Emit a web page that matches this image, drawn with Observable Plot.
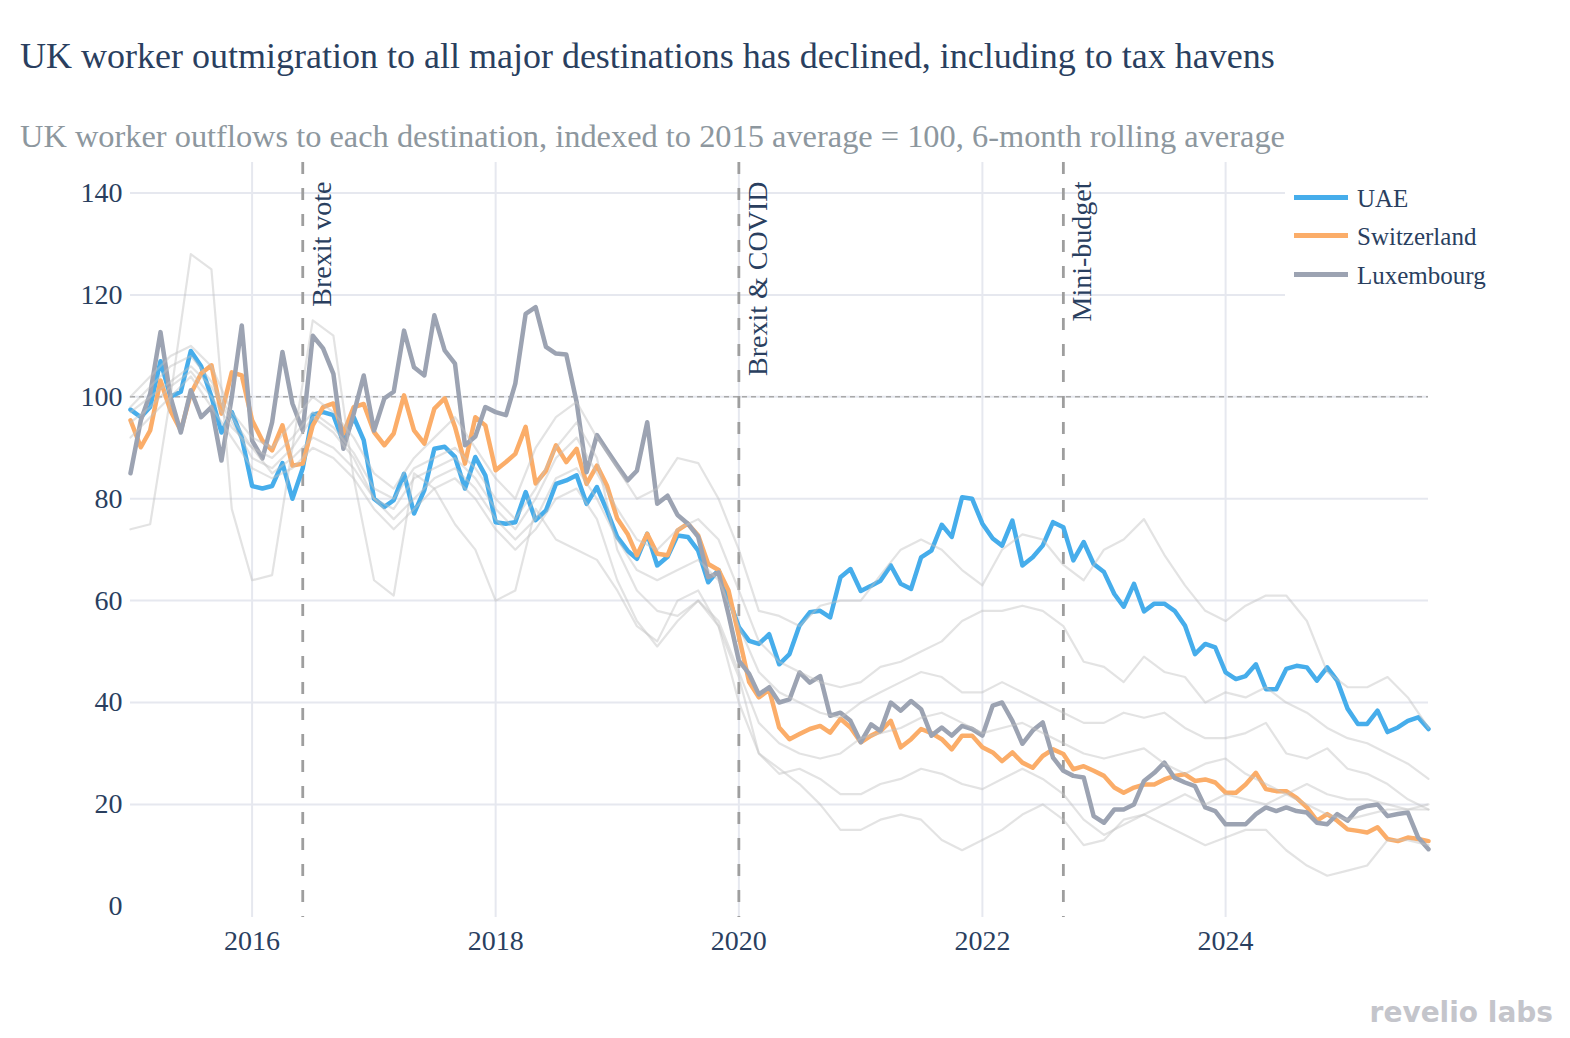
<!DOCTYPE html>
<html>
<head>
<meta charset="utf-8">
<script src="https://cdn.jsdelivr.net/npm/d3@7"></script>
<script src="https://cdn.jsdelivr.net/npm/@observablehq/plot@0.6"></script>
<style>
  body { margin: 0; background: #fff; }
  #page { position: relative; width: 1570px; height: 1038px; overflow: hidden; background: #fff;
          font-family: "Liberation Serif", "Times New Roman", serif; }
  .title { position: absolute; left: 20px; top: 38px; font-size: 36px; line-height: 36px; color: #2a3f5f; white-space: nowrap; }
  .subtitle { position: absolute; left: 20px; top: 120px; font-size: 32.4px; line-height: 32px; color: #8d979e; white-space: nowrap; z-index: 2; }
  #chart { position: absolute; left: 0; top: 150px; }
  #legend { position: absolute; left: 1285px; top: 172px; width: 285px; height: 135px; background: #fff; }
  .swatch { position: absolute; left: 9px; width: 54px; height: 5px; }
  .label { position: absolute; left: 72px; font-size: 25px; line-height: 25px; color: #2a3f5f; white-space: nowrap; }
  .logo { position: absolute; right: 17px; top: 999px; font-family: "DejaVu Sans", sans-serif; font-weight: bold;
          font-size: 28px; line-height: 28px; color: #c4c5cb; white-space: nowrap; }
</style>
</head>
<body>
<div id="page">
  <div class="title">UK worker outmigration to all major destinations has declined, including to tax havens</div>
  <div class="subtitle">UK worker outflows to each destination, indexed to 2015 average = 100, 6-month rolling average</div>
  <div id="chart"></div>
  <div id="legend"></div>
  <div class="logo">revelio labs</div>
</div>
<script>
// Monthly index values, Jan 2015 – Sep 2025 (2015 average = 100)
const uae = [
  97.5, 96, 98, 107, 100, 101, 109, 106, 100, 93, 97, 92,
  82.5, 82, 82.5, 87, 80, 86, 96.5, 97, 96.4, 91.1, 96, 91.5,
  80, 78.4, 79.7, 84.9, 77.1, 81.7, 89.8, 90.2, 88.2, 82, 88.2, 84.6,
  75.4, 75.1, 75.4, 81.3, 75.8, 77.7, 82.9, 83.6, 84.6, 79, 82.3, 77.7,
  72.5, 69.8, 68.2, 73.1, 66.9, 68.6, 72.8, 72.5, 69.8, 63.6, 66, 60.5,
  54.8, 52.1, 51.5, 53.4, 47.5, 49.5, 55.1, 57.7, 58, 56.7, 64.6, 66.2,
  61.9, 62.9, 63.9, 66.9, 63.3, 62.3, 68.5, 69.8, 74.9, 72.5, 80.3, 80,
  75.1, 72.2, 70.8, 75.7, 66.9, 68.5, 70.8, 75.4, 74.4, 67.9, 71.5, 67.2,
  65.6, 61.3, 58.8, 63.3, 57.9, 59.4, 59.4, 58, 55.1, 49.5, 51.5, 50.8,
  45.9, 44.6, 45.2, 47.5, 42.6, 42.6, 46.6, 47.2, 46.9, 44.3, 46.9, 44.3,
  38.8, 35.8, 35.8, 38.4, 34.2, 35.1, 36.4, 37.1, 34.8
];
const switzerland = [
  95.4, 90.1, 93.4, 103.2, 97.3, 93.4, 100.6, 104.6, 106.2, 96.7, 104.8, 104.2,
  95.4, 91.4, 89.5, 94.4, 86.5, 86.9, 94.4, 98, 98.7, 92.8, 98, 98.6,
  93.1, 90.5, 92.8, 100.3, 93.4, 90.8, 97.7, 99.7, 94.1, 86.9, 96, 94.4,
  85.6, 87.2, 88.8, 94.1, 83, 85.5, 90.5, 87.2, 89.8, 82.9, 86.5, 82.6,
  76.1, 73.1, 68.9, 73.1, 69.2, 68.9, 73.8, 75.1, 72.8, 67.2, 66, 62,
  53, 44, 41, 42.5, 35.1, 32.8, 33.8, 34.8, 35.4, 34.1, 36.8, 35.1,
  32.2, 33.5, 34.4, 36.4, 31.2, 32.8, 34.8, 34, 32.8, 30.8, 33.5, 33.5,
  31.2, 30.2, 28.5, 30.2, 28.2, 27.2, 29.5, 30.8, 29.9, 26.9, 27.5, 26.6,
  25.6, 23.3, 22.3, 23.3, 23.9, 23.9, 24.9, 25.6, 25.9, 24.6, 24.9, 24.3,
  22.3, 22.3, 23.9, 26.2, 23, 22.6, 22.6, 21.3, 19.4, 16.8, 18.1, 16.8,
  15.1, 14.8, 14.5, 15.5, 13.2, 12.8, 13.5, 13.2, 12.8
];
const luxembourg = [
  85, 95.4, 100.6, 112.7, 100, 93, 101.3, 96, 98, 87.5, 100, 114,
  91.4, 87.9, 95, 108.8, 98.7, 93.4, 112, 109.5, 104.5, 89.8, 96.7, 104.2,
  93.4, 99.7, 101, 113, 105.8, 104.2, 116, 109.1, 106.5, 90.5, 92.2, 98,
  97, 96.4, 102.6, 116.3, 117.6, 109.8, 108.5, 108.3, 99, 85.2, 92.5, 89.5,
  86.5, 83.6, 85.5, 95, 79, 80.6, 76.8, 75.1, 72.5, 64.6, 65.5, 57.3,
  48.2, 45.6, 41.6, 43, 40, 40.6, 45.9, 43.9, 45.2, 37.4, 38, 36.4,
  32.2, 35.7, 34.4, 40, 38.4, 40.3, 38.7, 33.5, 35.1, 33.5, 35.4, 34.8,
  33.5, 39.4, 40, 36.4, 31.9, 34.5, 36.1, 29.2, 26.6, 25.6, 25.3, 17.7,
  16.4, 19, 19, 20, 24.6, 26.2, 28.2, 25.2, 24.3, 23.6, 19.4, 18.7,
  16.1, 16.1, 16.1, 18.1, 19.4, 18.7, 19.4, 18.7, 18.4, 16.4, 16.1, 18.1,
  16.8, 19.1, 19.7, 20, 17.7, 18.1, 18.4, 13.5, 11.2
];

// Other major destinations, every second month (Jan, Mar, May, ...)
const otherA = [
  74, 75, 100, 128, 125, 78,
  64, 65, 90, 115, 112, 84,
  64, 61, 85, 82, 75, 70,
  60, 62, 78, 72, 70, 68,
  62, 55, 52, 60, 62, 55,
  40, 30, 27, 24, 20, 15,
  15, 17, 18, 17, 13, 11,
  13, 15, 18, 20, 17, 12,
  13, 17, 18, 16, 14, 12,
  13.5, 15, 15, 11, 8, 6,
  7, 8, 13, 13, 12
];
const otherB = [
  100, 104, 108, 110, 106, 97,
  92, 90, 95, 100, 97, 92,
  85, 82, 88, 92, 96, 90,
  84, 80, 90, 96, 99, 92,
  86, 80, 82, 88, 87, 80,
  70, 58, 57, 55, 59, 60,
  60, 65, 70, 72, 70, 66,
  63, 70, 73, 72, 67, 64,
  70, 72, 76, 69, 63, 58,
  56, 59, 61, 61, 56, 46,
  43, 43, 45, 41, 35
];
const otherC = [
  97, 100, 103, 106, 102, 95,
  88, 86, 90, 96, 93, 88,
  80, 78, 84, 86, 88, 84,
  78, 74, 80, 88, 92, 85,
  78, 72, 70, 74, 76, 72,
  62, 52, 48, 46, 44, 43,
  44, 47, 48, 50, 52, 56,
  58, 58, 59, 58, 55, 48,
  47, 44, 49, 46, 45, 40,
  42, 41, 43, 40, 38, 35,
  33, 32, 30, 28, 25
];
const otherD = [
  95, 98, 102, 105, 100, 94,
  90, 85, 88, 92, 90, 86,
  80, 76, 80, 84, 86, 82,
  76, 72, 76, 84, 86, 80,
  72, 66, 64, 66, 68, 64,
  55, 46, 42, 40, 38, 37,
  40, 42, 44, 46, 45, 42,
  42, 44, 42, 40, 38, 36,
  36, 38, 37, 38, 35, 33,
  33, 34, 36, 30, 29, 31,
  27, 26, 24, 21, 19
];
const otherE = [
  92, 96, 100, 104, 98, 92,
  86, 84, 86, 90, 88, 84,
  78, 74, 78, 82, 84, 80,
  74, 70, 74, 80, 82, 76,
  64, 56, 51, 56, 60, 56,
  46, 36, 32, 30, 29, 30,
  33, 34, 35, 37, 38, 36,
  34, 35, 36, 34, 32, 30,
  29, 30, 31, 28, 26, 28,
  29, 26, 24, 22, 24, 22,
  21, 21, 20, 19, 19
];
const otherF = [
  98, 102, 106, 108, 103, 96,
  90, 88, 92, 97, 94, 89,
  82, 80, 86, 88, 90, 86,
  80, 76, 82, 90, 95, 88,
  70, 62, 58, 57, 60, 55,
  45, 30, 26, 27, 25, 22,
  22, 24, 25, 27, 26, 24,
  23, 25, 27, 25, 22, 17,
  14, 16, 18, 20, 22, 20,
  22, 21, 20, 22, 20, 18,
  17, 18, 19, 19, 20
];

const events = [
  {date: new Date(Date.UTC(2016, 5, 1)), label: "Brexit vote"},
  {date: new Date(Date.UTC(2020, 0, 1)), label: "Brexit & COVID"},
  {date: new Date(Date.UTC(2022, 8, 1)), label: "Mini-budget"}
];

const yTicks = [0, 20, 40, 60, 80, 100, 120, 140];
const xTickYears = [2016, 2018, 2020, 2022, 2024];

const highlighted = [
  {name: "UAE", values: uae, color: "#46adeb"},
  {name: "Switzerland", values: switzerland, color: "#fbad69"},
  {name: "Luxembourg", values: luxembourg, color: "#9ca3b2"}
];
const others = [otherA, otherB, otherC, otherD, otherE, otherF];

const start = new Date(Date.UTC(2015, 0, 1));
const end = new Date(Date.UTC(2025, 8, 1));
const months = d3.utcMonth.range(start, d3.utcMonth.offset(end, 1));
const everyOtherMonth = months.filter((d, i) => i % 2 === 0);
const xTicks = xTickYears.map(y => new Date(Date.UTC(y, 0, 1)));

const otherRows = others.flatMap((vals, k) =>
  vals.map((v, i) => ({date: everyOtherMonth[i], value: v, series: k})));

const gridColor = "#e6e8ef";

const chart = Plot.plot({
  width: 1570,
  height: 830,
  marginLeft: 130,
  marginRight: 142,
  marginTop: 12,
  marginBottom: 63,
  style: {
    fontFamily: "'Liberation Serif', 'Times New Roman', serif",
    fontSize: "28px",
    color: "#2a3f5f",
    background: "transparent",
    overflow: "visible"
  },
  x: {type: "utc", domain: [start, end], ticks: xTicks, tickFormat: d3.utcFormat("%Y"),
      tickSize: 0, tickPadding: 13, label: null},
  y: {domain: [-2.2, 146], ticks: yTicks, tickSize: 0, tickPadding: 8, label: null},
  marks: [
    Plot.ruleY(yTicks.filter(t => t > 0), {stroke: gridColor, strokeWidth: 2}),
    Plot.ruleX(xTicks, {stroke: gridColor, strokeWidth: 2}),
    Plot.ruleY([100], {stroke: "#a9a9a9", strokeWidth: 1.5, strokeDasharray: "5,4"}),
    Plot.ruleX(events, {x: "date", stroke: "#9e9e9e", strokeWidth: 2.8, strokeDasharray: "12,14"}),
    ...highlighted.map(s => Plot.line(s.values.map((v, i) => ({date: months[i], value: v})),
      {x: "date", y: "value", stroke: s.color, strokeWidth: 4.5})),
    Plot.line(otherRows, {x: "date", y: "value", z: "series", stroke: "#c2c2c2",
      strokeOpacity: 0.45, strokeWidth: 2.2}),
    Plot.text(events, {x: "date", text: "label", frameAnchor: "top", dx: 8, dy: 19,
      rotate: -90, textAnchor: "end", fontSize: 28, fill: "#2a3f5f"})
  ]
});
document.getElementById("chart").appendChild(chart);

// Legend for the highlighted destinations
const legend = document.getElementById("legend");
highlighted.forEach((s, k) => {
  const sw = document.createElement("div");
  sw.className = "swatch";
  sw.style.top = (22.8 + k * 38.4) + "px";
  sw.style.background = s.color;
  legend.appendChild(sw);
  const lb = document.createElement("div");
  lb.className = "label";
  lb.style.top = (13.6 + k * 38.7) + "px";
  lb.textContent = s.name;
  legend.appendChild(lb);
});
</script>
</body>
</html>
